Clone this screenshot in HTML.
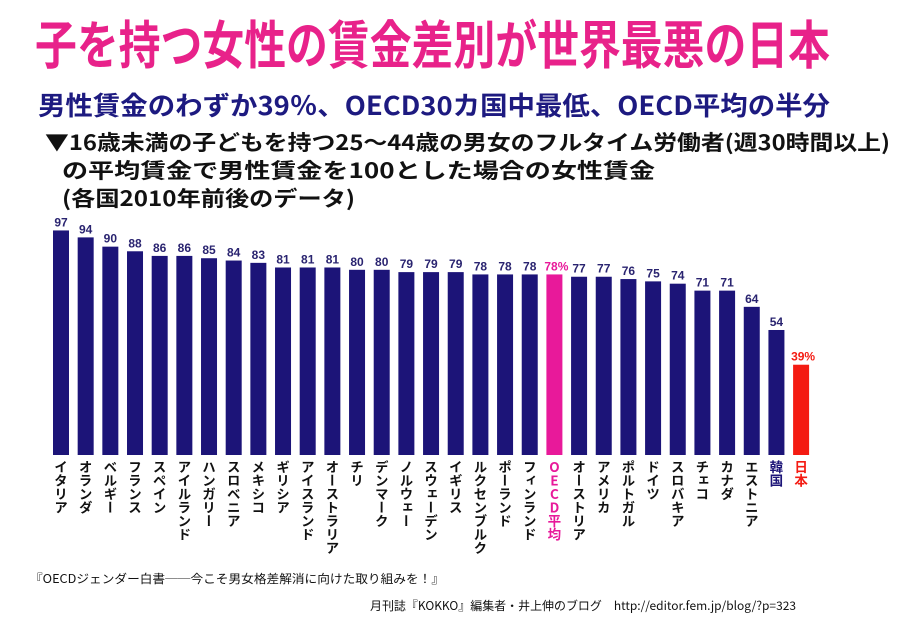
<!DOCTYPE html>
<html><head><meta charset="utf-8"><style>
body{margin:0;background:#fff;}
#wrap{position:relative;width:911px;height:624px;overflow:hidden;font-family:"Liberation Sans","Noto Sans CJK JP",sans-serif;}
svg{position:absolute;left:0;top:0;}
.lbl{position:absolute;writing-mode:vertical-rl;font-family:"Noto Sans CJK JP",sans-serif;font-weight:bold;font-size:13.5px;line-height:16px;color:#111;letter-spacing:0px;}
</style></head><body>
<div id="wrap">
<svg id="svg" width="911" height="624">
<text x="35" y="64" textLength="795" lengthAdjust="spacingAndGlyphs" font-size="52" font-weight="bold" fill="#e8228a" font-family="Noto Sans CJK JP,sans-serif">子を持つ女性の賃金差別が世界最悪の日本</text>
<text x="38" y="115" textLength="792" lengthAdjust="spacingAndGlyphs" font-size="26" font-weight="bold" fill="#1d1a80" font-family="Noto Sans CJK JP,sans-serif">男性賃金のわずか39％、OECD30カ国中最低、OECD平均の半分</text>
<text x="45" y="150" textLength="845" lengthAdjust="spacingAndGlyphs" font-size="21" font-weight="bold" fill="#111" font-family="Noto Sans CJK JP,sans-serif">▼16歳未満の子どもを持つ25～44歳の男女のフルタイム労働者(週30時間以上)</text>
<text x="62" y="178" textLength="593" lengthAdjust="spacingAndGlyphs" font-size="21" font-weight="bold" fill="#111" font-family="Noto Sans CJK JP,sans-serif">の平均賃金で男性賃金を100とした場合の女性賃金</text>
<text x="62" y="206" textLength="293" lengthAdjust="spacingAndGlyphs" font-size="21" font-weight="bold" fill="#111" font-family="Noto Sans CJK JP,sans-serif">(各国2010年前後のデータ)</text>
<text x="30" y="583" textLength="414" lengthAdjust="spacingAndGlyphs" font-size="12" fill="#111" font-family="Noto Sans CJK JP,sans-serif">『OECDジェンダー白書──今こそ男女格差解消に向けた取り組みを！』</text>
<text x="370" y="610" textLength="426" lengthAdjust="spacingAndGlyphs" font-size="12" fill="#111" font-family="Noto Sans CJK JP,sans-serif">月刊誌『KOKKO』編集者・井上伸のブログ　http://editor.fem.jp/blog/?p=323</text>
<g id="bars"></g>
</svg>
</div>
<script>
const categories=["イタリア","オランダ","ベルギー","フランス","スペイン","アイルランド","ハンガリー","スロベニア","メキシコ","ギリシア","アイスランド","オーストラリア","チリ","デンマーク","ノルウェー","スウェーデン","イギリス","ルクセンブルク","ポーランド","フィンランド","OECD平均","オーストリア","アメリカ","ポルトガル","ドイツ","スロバキア","チェコ","カナダ","エストニア","韓国","日本"];
const values=[97,94,90,88,86,86,85,84,83,81,81,81,80,80,79,79,79,78,78,78,78,77,77,76,75,74,71,71,64,54,39];
const valueLabels=["97","94","90","88","86","86","85","84","83","81","81","81","80","80","79","79","79","78","78","78","78%","77","77","76","75","74","71","71","64","54","39%"];
const navy="#1c1478",pink="#e8199a",red="#f41b12";
const x0=53,pitch=24.67,bw=16,base=455,scale=2.315;
const xPos=i=>x0+i*pitch;
const yPos=v=>base-v*scale;
const g=document.getElementById('bars');
const wrap=document.getElementById('wrap');
const NS="http://www.w3.org/2000/svg";
categories.forEach((c,i)=>{
  const col=c==="OECD平均"?pink:(c==="日本"?red:navy);
  const r=document.createElementNS(NS,'rect');
  r.setAttribute('x',xPos(i));r.setAttribute('y',yPos(values[i]));
  r.setAttribute('width',bw);r.setAttribute('height',base-yPos(values[i]));
  r.setAttribute('fill',col);
  
  
  g.appendChild(r);
  const t=document.createElementNS(NS,'text');
  t.setAttribute('x',xPos(i)+bw/2+(valueLabels[i].includes('%')?2:0));t.setAttribute('y',yPos(values[i])-4);
  t.setAttribute('text-anchor','middle');t.setAttribute('font-size','12');t.setAttribute('font-weight','bold');
  t.setAttribute('font-family','Liberation Sans,sans-serif');
  t.setAttribute('fill',col===navy?"#2a2470":col);
  t.textContent=valueLabels[i];
  
  
  g.appendChild(t);
  const d=document.createElement('div');
  d.className='lbl';
  d.style.left=(xPos(i)+bw/2-8)+'px';d.style.top='460px';
  if(c==="OECD平均"){d.style.color=pink;d.style.textOrientation='upright';}
  if(c==="日本")d.style.color=red;
  if(c==="韓国")d.style.color=navy;
  d.textContent=c;
  
  
  wrap.appendChild(d);
});
</script>
</body></html>
